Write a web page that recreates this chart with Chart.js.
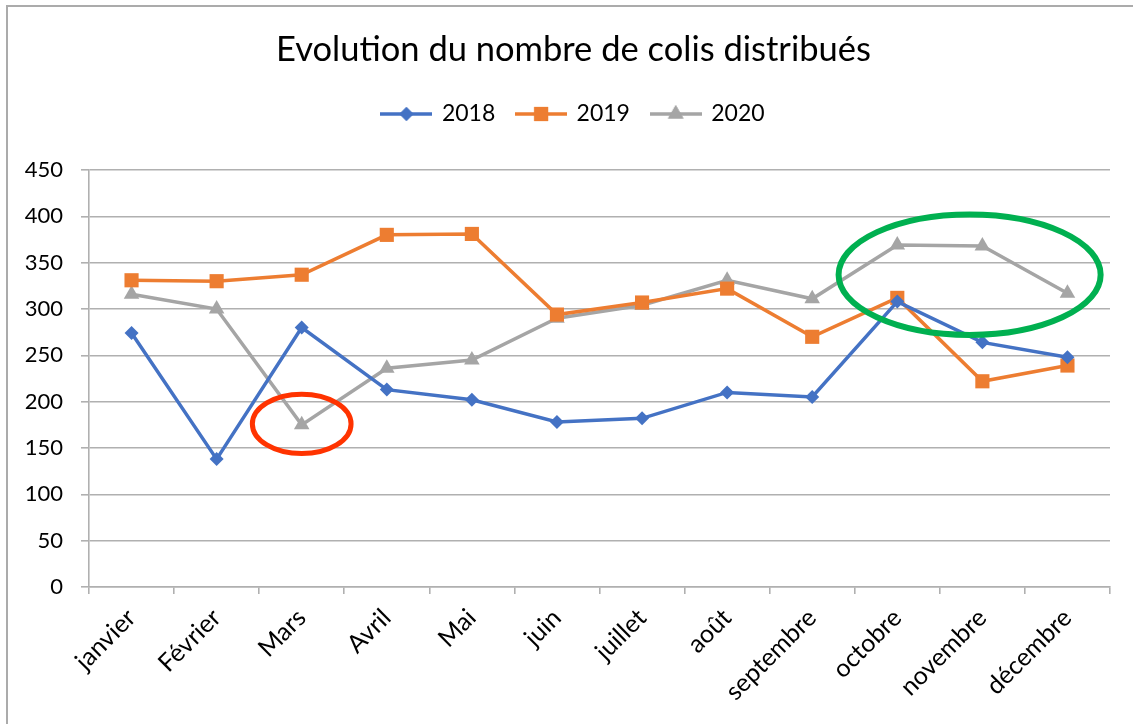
<!DOCTYPE html>
<html>
<head>
<meta charset="utf-8">
<script src="https://cdn.jsdelivr.net/npm/chart.js@4/dist/chart.umd.min.js"></script>
<style>
  body { margin: 0; background: #fff; }
  #frame { position: absolute; left: 6px; top: 5px; width: 1200px; height: 800px; border: 2px solid #ababab; }
  #colisChart { position: absolute; left: 0; top: 0; }
</style>
</head>
<body>
<div id="frame"></div>
<canvas id="colisChart" width="1133" height="724"></canvas>
<script>
// Data
const months = ['janvier', 'Février', 'Mars', 'Avril', 'Mai', 'juin', 'juillet', 'août', 'septembre', 'octobre', 'novembre', 'décembre'];
const years = ['2018', '2019', '2020'];
const colis2018 = [274, 138, 280, 213, 202, 178, 182, 210, 205, 308, 264, 248];
const colis2019 = [331, 330, 337, 380, 381, 294, 307, 322, 270, 312, 222, 239];
const colis2020 = [316, 300, 175, 236, 245, 290, 304, 331, 311, 369, 368, 317];
const yTicks = [0, 50, 100, 150, 200, 250, 300, 350, 400, 450];

const colors = ['#4472C4', '#ED7D31', '#A5A5A5'];
const markers = ['rectRot', 'rect', 'triangle'];
const markerSizes = [7, 10, 9];
const gridColor = '#b0b0b0';

// Highlight circles (centre in category index / value units)
const highlights = [
    { index: 2, value: 176, rx: 0.58, ry: 32, color: '#FF3300', width: 5 },
    { index: 9.85, value: 337, rx: 1.54, ry: 65, color: '#00B050', width: 6 }
];

const font = 'Lato';

// legend icons: line with the marker in the middle
function legendIcon(color, style, size) {
    const c = document.createElement('canvas');
    c.width = 52; c.height = 20;
    const g = c.getContext('2d');
    g.strokeStyle = color;
    g.lineWidth = 3.5;
    g.beginPath();
    g.moveTo(0, 10); g.lineTo(52, 10);
    g.stroke();
    g.fillStyle = color;
    Chart.helpers.drawPoint(g, { pointStyle: style, radius: size, borderWidth: 0 }, 26, 10);
    g.fill();
    return c;
}
const legendIcons = colors.map((c, i) => legendIcon(c, markers[i], markerSizes[i]));

const highlightPlugin = {
    id: 'highlights',
    afterDatasetsDraw(chart) {
        const xs = chart.scales.x, ys = chart.scales.y, ctx = chart.ctx;
        const step = xs.getPixelForValue(1) - xs.getPixelForValue(0);
        highlights.forEach(h => {
            const cx = xs.getPixelForValue(0) + h.index * step;
            const cy = ys.getPixelForValue(h.value);
            const rx = h.rx * step;
            const ry = ys.getPixelForValue(0) - ys.getPixelForValue(h.ry);
            ctx.save();
            ctx.strokeStyle = h.color;
            ctx.lineWidth = h.width;
            ctx.beginPath();
            ctx.ellipse(cx, cy, rx, ry, 0, 0, Math.PI * 2);
            ctx.stroke();
            ctx.restore();
        });
    }
};

const series = [colis2018, colis2019, colis2020];

const ctx = document.getElementById('colisChart').getContext('2d');

new Chart(ctx, {
    type: 'line',
    data: {
        labels: months,
        datasets: series.map((d, i) => ({
            label: years[i],
            data: d,
            borderColor: colors[i],
            backgroundColor: colors[i],
            borderWidth: 3.5,
            pointStyle: markers[i],
            pointRadius: markerSizes[i],
            pointBorderWidth: 0,
            tension: 0,
            fill: false
        }))
    },
    options: {
        responsive: false,
        animation: false,
        layout: { padding: { left: 14, right: 0, top: 0, bottom: 0 } },
        plugins: {
            title: {
                display: true,
                text: 'Evolution du nombre de colis distribués',
                color: '#000',
                font: { family: font, size: 34.5, weight: 'normal' },
                padding: { top: 29.3, bottom: 10 },
                weight: 2000
            },
            legend: {
                position: 'top',
                weight: 1600,
                labels: {
                    usePointStyle: true,
                    pointStyleWidth: 48,
                    padding: 21.8,
                    color: '#000',
                    font: { family: font, size: 23 },
                    generateLabels(chart) {
                        return Chart.defaults.plugins.legend.labels.generateLabels(chart)
                            .map(l => Object.assign(l, { pointStyle: legendIcons[l.datasetIndex] }));
                    }
                }
            },
            subtitle: {
                display: true,
                text: '',
                weight: 1500,
                font: { size: 20 },
                padding: { top: 0, bottom: 10.5 }
            },
            tooltip: { enabled: false }
        },
        scales: {
            x: {
                offset: true,
                afterFit(s) { s.height = 137; },
                grid: { offset: true, drawOnChartArea: false, drawTicks: true, tickLength: 7, color: gridColor, lineWidth: 1.6 },
                border: { color: gridColor, width: 1.6 },
                ticks: { color: '#000', font: { family: font, size: 25 }, maxRotation: 45, minRotation: 45, padding: 9 }
            },
            y: {
                min: 0,
                max: 450,
                afterFit(s) { s.width = 75; },
                afterBuildTicks(s) { s.ticks = yTicks.map(v => ({ value: v })); },
                grid: { color: gridColor, drawTicks: true, tickLength: 8, lineWidth: 1.6 },
                border: { color: gridColor, width: 1.6 },
                ticks: { color: '#000', font: { family: font, size: 22 }, padding: 18 }
            },
            // empty right-hand spacer so the plot ends where the reference does
            spacer: {
                type: 'linear',
                position: 'right',
                afterFit(s) { s.width = 23; },
                ticks: { display: false },
                grid: { display: false },
                border: { display: false }
            }
        }
    },
    plugins: [highlightPlugin]
});
</script>
</body>
</html>
